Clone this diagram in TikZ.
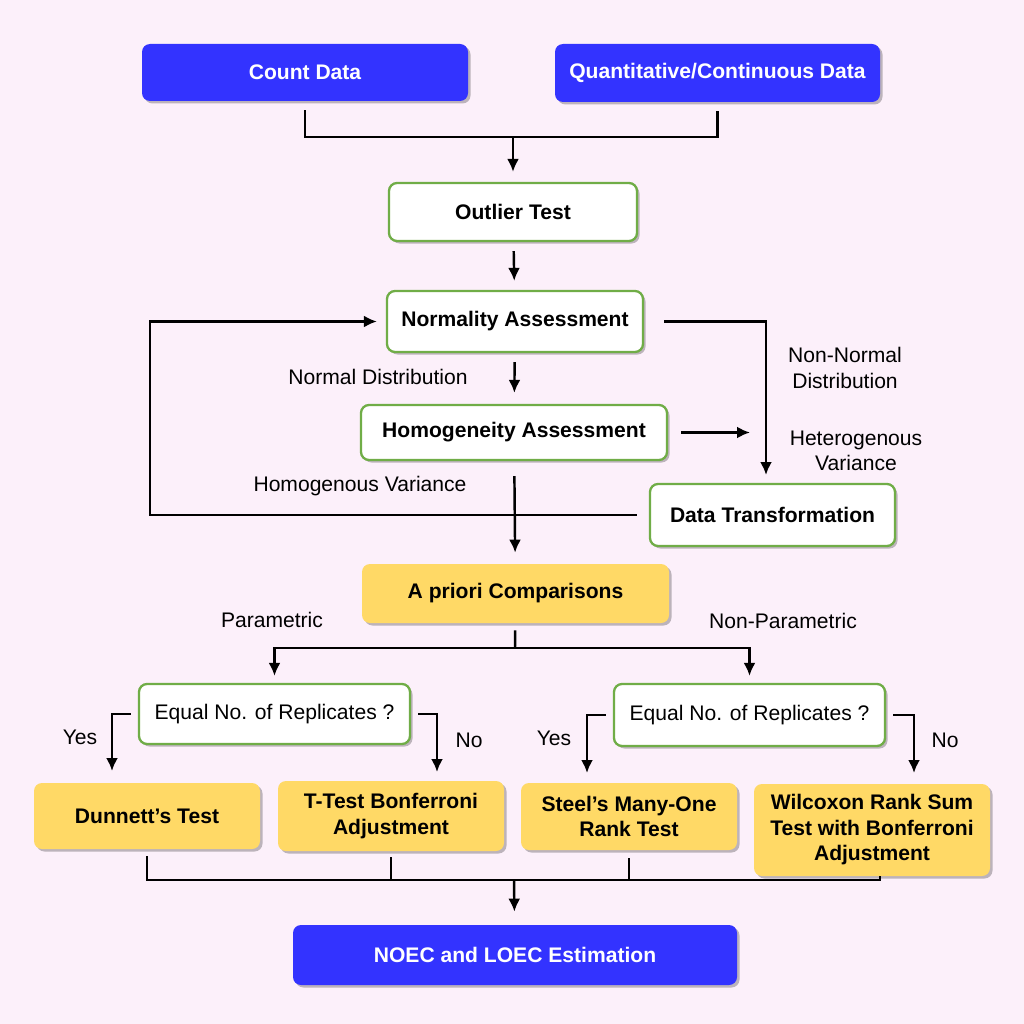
\documentclass[tikz,border=0pt]{standalone}
\usepackage{fontspec}
\setmainfont{Liberation Sans}
\usetikzlibrary{arrows.meta, shadows, calc, positioning}

\definecolor{bgpink}{RGB}{252,240,250}
\definecolor{boxblue}{RGB}{51,51,255}
\definecolor{boxyellow}{RGB}{255,217,102}
\definecolor{boxgreen}{RGB}{112,173,71}

\tikzset{
    box/.style={rounded corners=0.16cm, align=center, inner sep=0pt,
        font=\fontsize{12}{14.5}\selectfont\bfseries,
        drop shadow={shadow xshift=0.05cm, shadow yshift=-0.05cm, opacity=0.25, fill=black}},
    bsize/.style 2 args={minimum width=#1*0.02cm, minimum height=#2*0.02cm},
    bluebox/.style={box, fill=boxblue, text=white},
    greenbox/.style={box, fill=white, draw=boxgreen, line width=1.3pt},
    yellowbox/.style={box, fill=boxyellow},
    lbl/.style={font=\fontsize{12}{14.5}\selectfont, align=center, inner sep=0pt},
    line/.style={line width=1.4pt},
    arr/.style={line, -{Latex[length=2.6mm,width=2.4mm]}},
}

\begin{document}
\begin{tikzpicture}[x=0.02cm, y=-0.02cm]
    % Background
    \fill[bgpink] (0,0) rectangle (1024,1024);
    \useasboundingbox (0,0) rectangle (1024,1024);

    % Define the boxes
    \node[bluebox, bsize={326}{57}] (count) at (305,72.5) {Count Data};
    \node[bluebox, bsize={325}{58}] (quant) at (717.5,73) {Quantitative/Continuous Data};
    \node[greenbox, bsize={248}{58}] (outlier) at (513,212) {Outlier Test};
    \node[greenbox, bsize={256}{61}] (normal) at (515,321.5) {Normality Assessment};
    \node[greenbox, bsize={306}{55}] (homog) at (514,432.5) {Homogeneity Assessment};
    \node[greenbox, bsize={245}{62}] (transf) at (772.5,515) {Data Transformation};
    \node[yellowbox, bsize={307}{59}] (apriori) at (515.5,593.5) {A priori Comparisons};
    \node[greenbox, bsize={271}{60}, font=\fontsize{12}{14.5}\selectfont] (eqL) at (274.5,714) {Equal No. of Replicates ?};
    \node[greenbox, bsize={271}{62}, font=\fontsize{12}{14.5}\selectfont] (eqR) at (749.5,715) {Equal No. of Replicates ?};
    \node[yellowbox, bsize={226}{66}] (dunnett) at (147,816) {Dunnett’s Test};
    \node[yellowbox, bsize={226}{70}] (ttest) at (391,816) {T-Test Bonferroni\\Adjustment};
    \node[yellowbox, bsize={216}{67}] (steel) at (629,816.5) {Steel’s Many-One\\Rank Test};
    \node[yellowbox, bsize={236}{92}] (wilcox) at (872,830) {Wilcoxon Rank Sum\\Test with Bonferroni\\Adjustment};
    \node[bluebox, bsize={444}{60}] (noec) at (515,955) {NOEC and LOEC Estimation};

    % Branch labels
    \node[lbl] (lnormal) at (378,377) {Normal Distribution};
    \node[lbl] (lnonnormal) at (845,368) {Non-Normal\\Distribution};
    \node[lbl] (lhetero) at (856,451) {Heterogenous\\Variance};
    \node[lbl] (lhomo) at (360,486) {Homogenous Variance};
    \node[lbl] (lpar) at (272,620) {Parametric};
    \node[lbl] (lnonpar) at (783,621) {Non-Parametric};
    \node[lbl] (lyesL) at (80,737) {Yes};
    \node[lbl] (lnoL) at (469,740) {No};
    \node[lbl] (lyesR) at (554,738) {Yes};
    \node[lbl] (lnoR) at (945,740) {No};

    % Junctions and free ends
    \coordinate (j1) at (513,137);
    \coordinate (lp) at (150,0);
    \coordinate (rd) at (766,475);
    \coordinate (hr) at (750,432.5);
    \coordinate (j2) at (515,648);
    \coordinate (yL) at (112,771);
    \coordinate (nL) at (437,772);
    \coordinate (yR) at (587,773);
    \coordinate (nR) at (914,773);
    \coordinate (j3) at (514,880);

    % Connectors
    \draw[line, shorten <=0.18cm, shorten >=0.18cm] (count) -- (count |- j1) -| (quant);
    \draw[arr, shorten >=0.2cm] (j1) -- (outlier);
    \draw[arr, shorten <=0.18cm, shorten >=0.18cm] (outlier) -- (normal);
    \draw[arr, shorten <=0.18cm, shorten >=0.22cm] (normal) -- (homog);
    \draw[arr, shorten <=0.4cm] (normal) -| (rd);
    \draw[arr, shorten <=0.26cm] (homog) -- (hr);
    \draw[arr, shorten <=0.24cm, shorten >=0.18cm] (transf) -- (transf -| lp) |- (normal);
    \draw[arr, shorten <=0.3cm, shorten >=0.22cm] (homog) -- (apriori);
    \draw[line, shorten <=0.14cm] (apriori) -- (j2);
    \draw[arr, shorten >=0.14cm] (j2) -| (eqL);
    \draw[arr, shorten >=0.14cm] (j2) -| (eqR);
    \draw[arr, shorten <=0.14cm] (eqL) -| (yL);
    \draw[arr, shorten <=0.14cm] (eqL) -| (nL);
    \draw[arr, shorten <=0.14cm] (eqR) -| (yR);
    \draw[arr, shorten <=0.14cm] (eqR) -| (nR);
    \draw[line, shorten <=0.14cm] (dunnett) -- (dunnett |- j3) -| ([xshift=0.16cm]wilcox.south);
    \draw[line, shorten <=0.12cm] (ttest) -- (ttest |- j3);
    \draw[line, shorten <=0.16cm] (steel) -- (steel |- j3);
    \draw[arr, shorten >=0.26cm] (j3) -- (noec);

\end{tikzpicture}
\end{document}
